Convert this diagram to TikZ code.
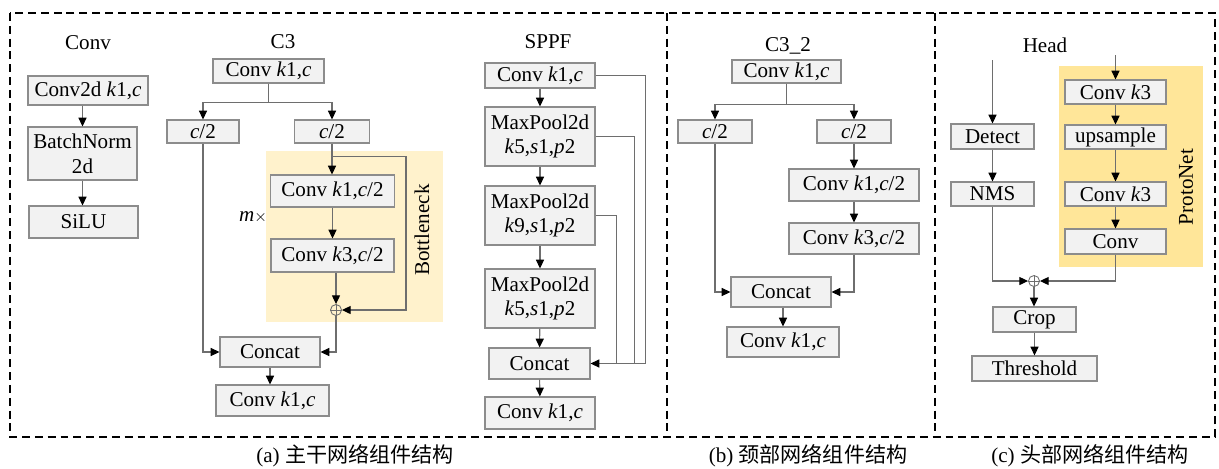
\documentclass[tikz,border=0pt]{standalone}
\usepackage{fontspec}
\setmainfont{Liberation Serif}
\newfontfamily\cjk{Noto Sans CJK SC}
\usetikzlibrary{arrows.meta}
\definecolor{boxfill}{HTML}{F2F2F2}
\definecolor{boxline}{HTML}{8C8C8C}
\definecolor{wire}{HTML}{6E6E6E}
\definecolor{paleyellow}{HTML}{FFF2CC}
\definecolor{protoyellow}{HTML}{FFE699}
\newcommand{\iv}[1]{\textit{#1}}

\begin{document}
\begin{tikzpicture}[x=0.02cm, y=-0.02cm, font=\rmfamily\fontsize{12}{14}\selectfont,
  blk/.style={draw=boxline, fill=boxfill, line width=0.6pt, inner sep=0pt, align=center},
  sz/.style 2 args={minimum width=#1*0.02cm, minimum height=#2*0.02cm},
  ln/.style={draw=wire, line width=0.6pt},
  arr/.style={ln, -{Triangle[black, length=5pt, width=4.6pt]}},
  plus/.style={draw=wire, circle, line width=0.5pt, minimum size=0.22cm, inner sep=0pt},
  panel/.style={draw=black, line width=1.1pt, dash pattern=on 4.5pt off 2.8pt}]
  \useasboundingbox (0,0) rectangle (1219,468);

  \draw[panel] (10,13) rectangle (1215,437);
  \draw[panel] (667,13) -- (667,437);
  \draw[panel] (935,13) -- (935,437);

  \node (capa) at (355,456) {(a)\ {\cjk 主干网络组件结构}};
  \node (capb) at (808,456) {(b)\ {\cjk 颈部网络组件结构}};
  \node (capc) at (1090,456) {(c)\ {\cjk 头部网络组件结构}};

  % Conv
  \node (cvt) at (88,43) {Conv};
  \node[blk, sz={120}{29}] (cv1) at (88,90.5) {Conv2d \iv{k}1,\iv{c}};
  \node[blk, sz={109}{53}] (cv2) at (82.5,153.5) {BatchNorm\\2d};
  \node[blk, sz={109}{32}] (cv3) at (83.5,222) {SiLU};
  \draw[arr] (cv2.north |- cv1.south) -- (cv2.north);
  \draw[arr] (cv2.south) -- (cv2.south |- cv3.north);

  % C3
  \fill[paleyellow] (266,151) rectangle (443,322);
  \node (c3t) at (283,42) {C3};
  \node[blk, sz={111}{24}] (c3in) at (268.5,71) {Conv \iv{k}1,\iv{c}};
  \node[blk, sz={72}{23}] (c3l) at (203,131.5) {\iv{c}/2};
  \node[blk, sz={75}{23}] (c3r) at (332,131.5) {\iv{c}/2};
  \node[blk, sz={124}{32}] (c3b1) at (332.5,191) {Conv \iv{k}1,\iv{c}/2};
  \node[blk, sz={123}{33}] (c3b2) at (332.5,255.5) {Conv \iv{k}3,\iv{c}/2};
  \node[plus] (c3add) at (336,310) {};
  \draw[line width=0.4pt, wire] (c3add.north) -- (c3add.south) (c3add.west) -- (c3add.east);
  \node (mx) at (253,217) {\iv{m}{\small$\times$}};
  \node[rotate=90] (bnl) at (422,230) {Bottleneck};
  \node[blk, sz={100}{30}] (c3cat) at (270,352) {Concat};
  \node[blk, sz={113}{31}] (c3out) at (272.5,400.5) {Conv \iv{k}1,\iv{c}};
  \draw[arr] (c3in.south) -- ++(0,19) -| (c3l.north);
  \draw[arr] (c3in.south) -- ++(0,19) -| (c3r.north);
  \draw[arr] (c3r.south) -- (c3r.south |- c3b1.north);
  \draw[arr] (c3r.south) ++(0,13) -- ++(74,0) |- (c3add.east);
  \draw[arr] (c3b1.south) -- (c3b1.south |- c3b2.north);
  \draw[arr] (c3add |- c3b2.south) -- (c3add.north);
  \draw[arr] (c3add.south) |- (c3cat.east);
  \draw[arr] (c3l.south) |- (c3cat.west);
  \draw[arr] (c3cat.south) -- (c3cat.south |- c3out.north);

  % SPPF
  \node (spt) at (548,42) {SPPF};
  \node[blk, sz={110}{25}] (sp1) at (540,75.5) {Conv \iv{k}1,\iv{c}};
  \node[blk, sz={110}{59}] (sp2) at (540,136.5) {MaxPool2d\\\iv{k}5,\iv{s}1,\iv{p}2};
  \node[blk, sz={110}{59}] (sp3) at (540,215.5) {MaxPool2d\\\iv{k}9,\iv{s}1,\iv{p}2};
  \node[blk, sz={110}{59}] (sp4) at (540,298.5) {MaxPool2d\\\iv{k}5,\iv{s}1,\iv{p}2};
  \node[blk, sz={101}{31}] (spcat) at (539.5,363.5) {Concat};
  \node[blk, sz={110}{32}] (spout) at (540,413) {Conv \iv{k}1,\iv{c}};
  \draw[arr] (sp1) -- (sp2);
  \draw[arr] (sp2) -- (sp3);
  \draw[arr] (sp3) -- (sp4);
  \draw[arr] (sp4) -- (spcat);
  \draw[arr] (spcat) -- (spout);
  \draw[ln] (sp2.east) -- ++(39,0) |- (spcat.east);
  \draw[ln] (sp3.east) -- ++(21,0) |- (spcat.east);
  \draw[arr] (sp1.east) -- ++(50,0) |- (spcat.east);

  % C3_2
  \node (nt) at (788,46) {C3\_2};
  \node[blk, sz={109}{23}] (n1) at (786.5,71.5) {Conv \iv{k}1,\iv{c}};
  \node[blk, sz={74}{23}] (nl) at (715,131.5) {\iv{c}/2};
  \node[blk, sz={74}{23}] (nr) at (854,131.5) {\iv{c}/2};
  \node[blk, sz={130}{32}] (nb1) at (854,185) {Conv \iv{k}1,\iv{c}/2};
  \node[blk, sz={130}{31}] (nb2) at (854,238.5) {Conv \iv{k}3,\iv{c}/2};
  \node[blk, sz={100}{30}] (ncat) at (781,292) {Concat};
  \node[blk, sz={112}{30}] (nout) at (783,342) {Conv \iv{k}1,\iv{c}};
  \draw[arr] (n1.south) -- ++(0,21) -| (nl.north);
  \draw[arr] (n1.south) -- ++(0,21) -| (nr.north);
  \draw[arr] (nr) -- (nb1);
  \draw[arr] (nb1) -- (nb2);
  \draw[arr] (nb2.south) |- (ncat.east);
  \draw[arr] (nl.south) |- (ncat.west);
  \draw[arr] (nout.north |- ncat.south) -- (nout.north);

  % Head
  \fill[protoyellow] (1059,66) rectangle (1203,267);
  \node (ht) at (1045,45) {Head};
  \coordinate (hin1) at (992.5,60);
  \coordinate (hin2) at (1115.5,55);
  \node[blk, sz={83}{25}] (hdet) at (992.5,136.5) {Detect};
  \node[blk, sz={83}{24}] (hnms) at (992.5,194) {NMS};
  \node[blk, sz={101}{24}] (p1) at (1115.5,92) {Conv \iv{k}3};
  \node[blk, sz={101}{24}] (p2) at (1115.5,137) {upsample};
  \node[blk, sz={101}{24}] (p3) at (1115.5,194) {Conv \iv{k}3};
  \node[blk, sz={101}{25}] (p4) at (1115.5,241.5) {Conv};
  \node[rotate=90] (pnl) at (1186,187) {ProtoNet};
  \node[plus] (hadd) at (1034,281) {};
  \draw[line width=0.4pt, wire] (hadd.north) -- (hadd.south) (hadd.west) -- (hadd.east);
  \node[blk, sz={83}{25}] (hcrop) at (1034.5,319.5) {Crop};
  \node[blk, sz={125}{25}] (hthr) at (1034.5,368.5) {Threshold};
  \draw[arr] (hin1) -- (hdet);
  \draw[arr] (hdet) -- (hnms);
  \draw[arr] (hin2) -- (p1);
  \draw[arr] (p1) -- (p2);
  \draw[arr] (p2) -- (p3);
  \draw[arr] (p3) -- (p4);
  \draw[arr] (hnms.south) |- (hadd.west);
  \draw[arr] (p4.south) |- (hadd.east);
  \draw[arr] (hadd.south) -- (hadd.south |- hcrop.north);
  \draw[arr] (hcrop) -- (hthr);
\end{tikzpicture}
\end{document}
